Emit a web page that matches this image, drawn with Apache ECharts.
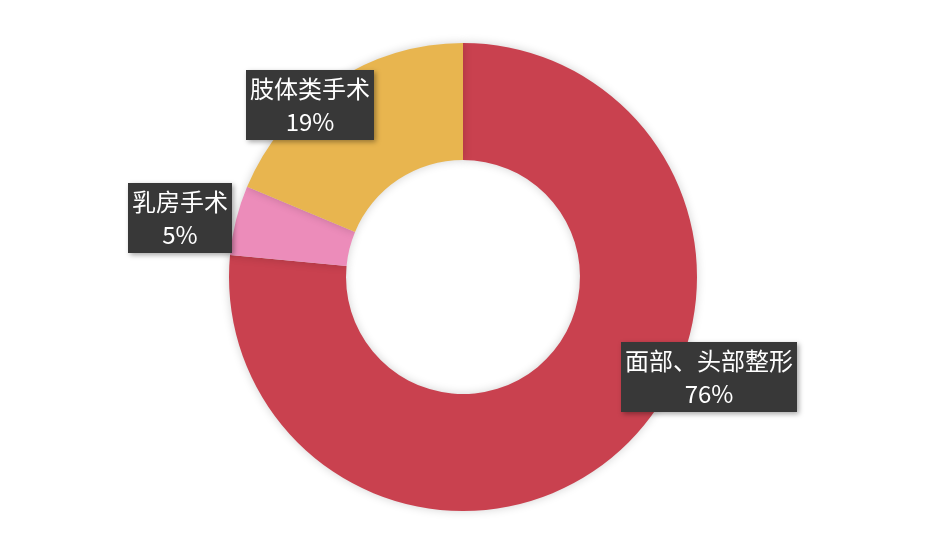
<!DOCTYPE html>
<html>
<head>
<meta charset="utf-8">
<script src="https://cdn.jsdelivr.net/npm/echarts@6/dist/echarts.min.js"></script>
<style>html,body{margin:0;padding:0;background:#fff;}#c{width:932px;height:546px;}</style>
</head>
<body>
<div id="c"></div>
<script>
var categories = ['面部、头部整形', '乳房手术', '肢体类手术'];
var values = [76.5, 4.8, 18.7];
var percentLabels = ['76%', '5%', '19%'];
var colors = ['#c9414f', '#ec8cba', '#e8b54f'];
var labelCenters = [[709, 377], [180, 218], [310, 105]];

var chart = echarts.init(document.getElementById('c'));
chart.setOption({
  backgroundColor: '#ffffff',
  animation: false,
  series: [{
    type: 'pie',
    center: [463, 277],
    radius: [117, 234],
    startAngle: 90,
    clockwise: true,
    avoidLabelOverlap: false,
    itemStyle: {
      shadowBlur: 10,
      shadowColor: 'rgba(0,0,0,0.18)'
    },
    labelLine: { show: false },
    label: {
      show: true,
      position: 'outside',
      formatter: function (p) { return p.name + '\n' + percentLabels[p.dataIndex]; },
      color: '#ffffff',
      fontSize: 24,
      lineHeight: 33,
      fontFamily: '"Noto Sans CJK SC", "Liberation Sans", sans-serif',
      align: 'center',
      backgroundColor: '#383838',
      padding: [2, 4, 2, 4],
      shadowBlur: 5,
      shadowOffsetX: 2,
      shadowOffsetY: 2,
      shadowColor: 'rgba(0,0,0,0.35)'
    },
    labelLayout: function (params) {
      var c = labelCenters[params.dataIndex];
      return { x: c[0], y: c[1], align: 'center', verticalAlign: 'middle' };
    },
    data: categories.map(function (n, i) {
      return { name: n, value: values[i], itemStyle: { color: colors[i] } };
    })
  }]
});
</script>
</body>
</html>
